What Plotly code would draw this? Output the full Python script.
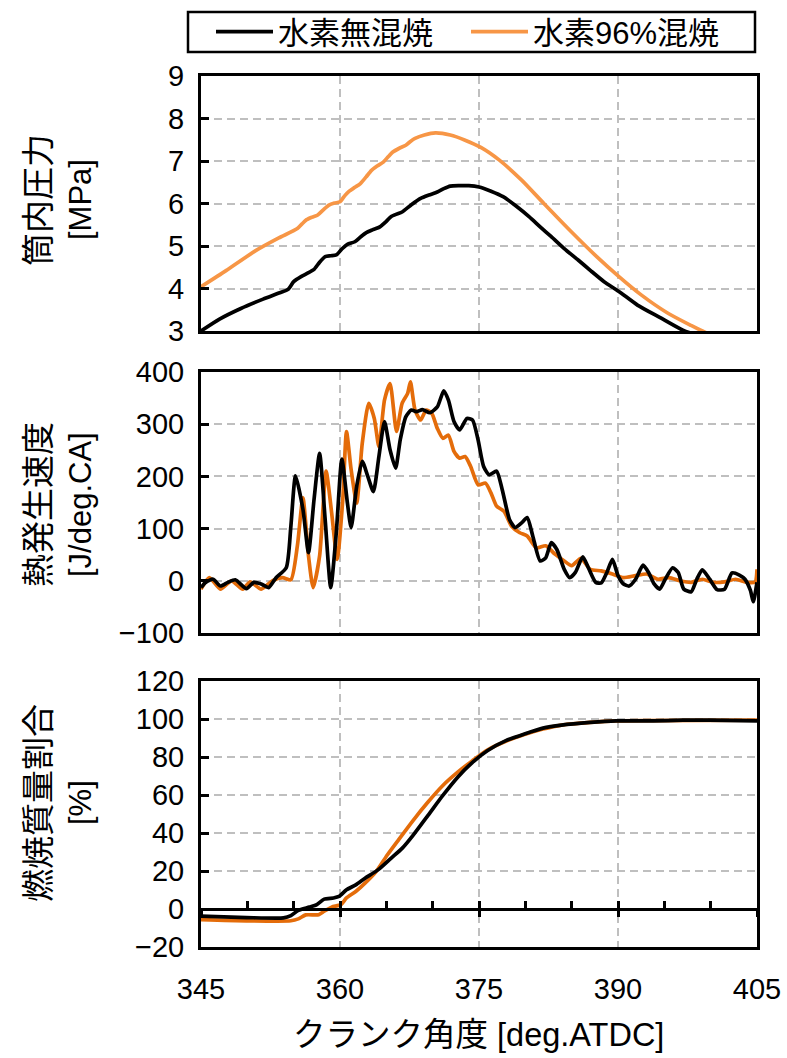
import plotly.graph_objects as go

# ---------------- data ----------------
# Panel 1: cylinder pressure [MPa]
p_ang_base = [345.0, 347.0, 349.3, 351.7, 353.5, 354.4, 355.0, 355.8, 356.5, 357.2, 357.8, 358.4, 359.0, 359.6,
              360.2, 360.8, 361.6, 362.2, 362.8, 363.5, 364.3, 365.0, 365.5, 366.1, 366.7, 367.7, 368.7, 369.6,
              370.5, 371.2, 371.9, 372.9, 373.9, 375.0, 376.3, 377.6, 379.0, 380.4, 381.6, 382.8, 384.2, 385.7,
              387.1, 388.5, 390.1, 392.1, 394.5, 397.0, 400.0, 405.0]
p_base = [3.00, 3.28, 3.53, 3.75, 3.90, 3.98, 4.16, 4.28, 4.36, 4.45, 4.62, 4.75, 4.77, 4.79,
          4.93, 5.04, 5.10, 5.21, 5.31, 5.38, 5.45, 5.58, 5.69, 5.75, 5.80, 5.97, 6.12, 6.20,
          6.27, 6.35, 6.41, 6.42, 6.42, 6.39, 6.29, 6.16, 5.94, 5.69, 5.45, 5.22, 4.94, 4.67,
          4.41, 4.16, 3.93, 3.61, 3.32, 3.02, 2.80, 2.50]
p_ang_h2 = [345.0, 347.7, 350.9, 353.4, 355.4, 355.9, 356.4, 357.0, 357.6, 358.2, 358.8, 359.4, 360.0, 360.5,
            361.0, 361.6, 362.2, 362.8, 363.4, 364.0, 364.7, 365.2, 365.7, 366.4, 367.1, 367.6, 368.1, 369.1,
            370.3, 371.9, 373.5, 375.2, 377.2, 379.6, 382.0, 384.8, 387.7, 390.1, 392.5, 395.3, 397.8, 399.6, 405.0]
p_h2 = [4.04, 4.42, 4.89, 5.19, 5.41, 5.52, 5.62, 5.68, 5.73, 5.85, 5.96, 6.01, 6.04, 6.18,
        6.29, 6.38, 6.47, 6.62, 6.78, 6.88, 6.98, 7.10, 7.21, 7.30, 7.37, 7.46, 7.53, 7.61,
        7.66, 7.61, 7.49, 7.32, 7.02, 6.55, 6.00, 5.37, 4.75, 4.28, 3.85, 3.43, 3.14, 2.95, 2.55]

# Panel 2: heat release rate [J/deg.CA]
q_ang_base = [345.0, 345.5, 346.3, 347.1, 347.9, 348.7, 349.9, 350.7, 351.5, 352.3, 353.1, 354.2, 354.7, 355.2,
              356.0, 356.6, 357.2, 357.8, 358.4, 359.0, 359.6, 360.2, 360.8, 361.2, 361.8, 362.4, 363.0, 363.6,
              364.2, 364.8, 365.4, 366.0, 366.5, 367.1, 367.7, 368.3, 368.9, 369.7, 370.5, 371.2, 371.7, 372.3,
              372.9, 373.7, 374.3, 374.9, 375.5, 376.1, 376.9, 377.5, 378.3, 378.9, 379.6, 380.2, 380.8, 381.6,
              382.2, 382.8, 383.4, 384.2, 384.8, 385.4, 386.2, 386.8, 387.6, 388.2, 388.8, 389.4, 390.0, 390.6,
              391.2, 391.9, 392.7, 393.3, 393.9, 394.5, 395.1, 395.9, 396.5, 397.1, 397.9, 398.5, 399.1, 399.9,
              400.7, 401.5, 402.3, 403.1, 403.7, 404.3, 404.6, 405.0]
q_base = [-13, -3, 3, -10, -3, 2, -15, -3, -6, -13, 6, 25, 105, 201,
          137, 54, 156, 244, 117, -13, 92, 233, 149, 102, 181, 229, 200, 171,
          238, 305, 251, 216, 270, 314, 327, 324, 328, 322, 333, 364, 346, 305,
          289, 311, 308, 270, 219, 203, 210, 175, 117, 102, 111, 121, 86, 38,
          44, 73, 60, 22, 6, 16, 46, 25, -3, -4, 16, 41, 10, -6,
          -10, 3, 30, 16, -6, -16, 3, 25, 16, -16, -21, 3, 21, 3,
          -17, -16, 15, 11, 3, -19, -40, -3]
q_ang_h2 = [345.0, 345.9, 347.1, 348.3, 349.5, 350.3, 351.5, 352.7, 353.8, 354.7, 355.4, 356.0, 356.6, 357.1,
            357.8, 358.5, 359.1, 359.7, 360.3, 360.7, 361.2, 361.8, 362.4, 363.1, 363.7, 364.2, 364.8, 365.4,
            366.1, 366.7, 367.3, 367.6, 368.1, 368.7, 369.3, 369.9, 370.5, 371.1, 371.7, 372.3, 372.9, 373.5,
            374.1, 374.9, 375.7, 376.3, 376.9, 377.7, 378.5, 379.4, 380.2, 381.2, 382.2, 383.2, 384.2, 385.0,
            386.0, 387.0, 388.2, 389.4, 390.6, 391.9, 393.1, 394.3, 395.5, 396.7, 397.9, 399.1, 400.3, 401.5,
            402.7, 403.9, 404.8, 405.0]
q_h2 = [-16, 6, -16, 0, -16, -2, -16, 0, 6, 2, 67, 159, 48, -13,
        48, 210, 130, 41, 156, 286, 213, 149, 263, 340, 311, 257, 346, 378,
        286, 340, 359, 381, 327, 308, 327, 321, 292, 273, 279, 248, 235, 238,
        219, 184, 187, 168, 143, 133, 105, 92, 86, 63, 67, 51, 38, 29,
        43, 22, 19, 13, 6, 10, 13, 3, 6, 0, -3, 3, -3, -2,
        3, -3, -2, 22]

# Panel 3: mass fraction burned [%]
m_ang_base = [345.0, 349.9, 353.9, 354.7, 355.5, 356.7, 357.5, 358.3, 359.3, 359.9, 360.7, 361.7, 362.7, 364.1,
              365.5, 366.7, 367.9, 369.5, 371.1, 372.7, 374.3, 375.9, 377.9, 379.9, 381.9, 383.9, 387.0, 389.8,
              393.8, 397.0, 399.8, 405.0]
m_base = [-3.8, -4.5, -4.7, -3.5, -0.7, 1.0, 2.3, 5.2, 5.8, 6.6, 10.1, 12.7, 16.2, 20.6,
          26.7, 31.9, 38.9, 49.3, 59.8, 69.4, 77.2, 83.3, 88.6, 92.1, 95.2, 96.8, 98.2, 99.0,
          99.0, 99.4, 99.4, 99.0]
m_ang_h2 = [345.0, 349.9, 354.7, 355.5, 356.3, 357.7, 358.3, 359.1, 360.1, 360.7, 361.7, 362.7, 363.9, 365.1,
            366.3, 367.9, 369.5, 371.1, 372.7, 374.3, 375.9, 377.9, 379.9, 381.9, 383.9, 387.0, 389.8, 405.0]
m_h2 = [-5.6, -6.2, -6.2, -5.2, -3.1, -3.0, -1.2, 1.0, 2.3, 5.8, 9.2, 13.6, 19.7, 28.4,
        36.3, 46.7, 56.3, 65.0, 72.0, 78.1, 83.7, 88.3, 91.8, 94.7, 96.8, 98.2, 99.0, 99.4]

series_names = ["水素無混焼", "水素96%混焼"]
x_ticks = [345, 360, 375, 390, 405]
p_range, q_range, m_range = [3, 9], [-100, 400], [-20, 120]
y_titles = [("筒内圧力", "[MPa]"), ("熱発生速度", "[J/deg.CA]"), ("燃焼質量割合", "[%]")]
x_title = "クランク角度 [deg.ATDC]"

# ---------------- styling ----------------
W, H = 787, 1058
FONT = "Liberation Sans, Arial, Noto Sans CJK JP, sans-serif"
BLACK = "#000000"
ORANGE_LIGHT = "#F79646"
ORANGE_DARK = "#E46C0A"
GRID = "#BFBFBF"

def px_x(p):
    return p / W

def px_y(p):
    return 1 - p / H

xdom = [px_x(201), px_x(757)]
d1 = [px_y(331), px_y(76)]
d2 = [px_y(633), px_y(372)]
d3 = [px_y(947), px_y(681)]

fig = go.Figure()
LW = 3.7
def spl(color):
    return dict(color=color, width=LW, shape="spline", smoothing=0.6)

fig.add_trace(go.Scatter(x=p_ang_base, y=p_base, mode="lines", name=series_names[0],
                         line=spl(BLACK), xaxis="x", yaxis="y"))
fig.add_trace(go.Scatter(x=p_ang_h2, y=p_h2, mode="lines", name=series_names[1],
                         line=spl(ORANGE_LIGHT), xaxis="x", yaxis="y"))
fig.add_trace(go.Scatter(x=q_ang_h2, y=q_h2, mode="lines", name=series_names[1], showlegend=False,
                         line=spl(ORANGE_DARK), xaxis="x2", yaxis="y2"))
fig.add_trace(go.Scatter(x=q_ang_base, y=q_base, mode="lines", name=series_names[0], showlegend=False,
                         line=spl(BLACK), xaxis="x2", yaxis="y2"))
fig.add_trace(go.Scatter(x=m_ang_h2, y=m_h2, mode="lines", name=series_names[1], showlegend=False,
                         line=spl(ORANGE_DARK), xaxis="x3", yaxis="y3"))
fig.add_trace(go.Scatter(x=m_ang_base, y=m_base, mode="lines", name=series_names[0], showlegend=False,
                         line=spl(BLACK), xaxis="x3", yaxis="y3"))
# empty traces so that the y=0 crossing axes of panel 3 are drawn
for ax in ["x4", "x5"]:
    fig.add_trace(go.Scatter(x=[], y=[], mode="lines", showlegend=False, hoverinfo="skip",
                             xaxis=ax, yaxis="y3"))

TICKFONT = dict(family=FONT, size=29, color=BLACK)
FRAME = 3

def xax(anchor, labels):
    d = dict(domain=xdom, anchor=anchor, range=[x_ticks[0], x_ticks[-1]], tickvals=x_ticks,
             showgrid=True, gridcolor=GRID, gridwidth=1.5, griddash="8px,5px",
             showline=True, linecolor=BLACK, linewidth=FRAME, mirror=True,
             zeroline=False, ticks="", showticklabels=labels, tickfont=TICKFONT,
             fixedrange=True, automargin=False)
    if labels:
        d["ticklabelstandoff"] = 14
    return d

def yax(anchor, dom, rng, dt):
    return dict(domain=dom, anchor=anchor, range=rng, dtick=dt, tick0=rng[0],
                showgrid=True, gridcolor=GRID, gridwidth=1.5, griddash="8px,5px",
                showline=True, linecolor=BLACK, linewidth=FRAME, mirror=True,
                zeroline=False, ticks="inside", ticklen=8, tickwidth=2.5, tickcolor=BLACK,
                tickfont=TICKFONT, ticklabelstandoff=8, fixedrange=True, automargin=False)

# position of the y=0 crossing line in panel 3 (paper coords), derived from the axis range
zero_pos = d3[0] + (0 - m_range[0]) / (m_range[1] - m_range[0]) * (d3[1] - d3[0])

fig.update_layout(
    width=W, height=H, margin=dict(l=0, r=0, t=0, b=0, autoexpand=False),
    paper_bgcolor="white", plot_bgcolor="white",
    font=dict(family=FONT, color=BLACK),
    xaxis=xax("y", False), xaxis2=xax("y2", False), xaxis3=xax("y3", True),
    yaxis=yax("x", d1, p_range, 1), yaxis2=yax("x2", d2, q_range, 100), yaxis3=yax("x3", d3, m_range, 20),
    xaxis4=dict(overlaying="x3", anchor="free", position=zero_pos, domain=xdom,
                range=[x_ticks[0], x_ticks[-1]], dtick=5, tick0=345, ticks="inside", ticklen=7,
                tickwidth=2.5, tickcolor=BLACK, showline=True, linecolor=BLACK, linewidth=FRAME,
                showgrid=False, zeroline=False, showticklabels=False, fixedrange=True,
                automargin=False),
    xaxis5=dict(overlaying="x3", anchor="free", position=zero_pos, domain=xdom,
                range=[x_ticks[0], x_ticks[-1]], dtick=15, tick0=345, ticks="outside", ticklen=7,
                tickwidth=2.5, tickcolor=BLACK, showline=False,
                showgrid=False, zeroline=False, showticklabels=False, fixedrange=True,
                automargin=False),
    legend=dict(orientation="h", x=px_x(211), xanchor="left", y=px_y(32), yanchor="middle",
                font=dict(family=FONT, size=31, color=BLACK), bgcolor="rgba(0,0,0,0)",
                borderwidth=0, entrywidth=183, entrywidthmode="pixels", itemwidth=57,
                tracegroupgap=0),
    showlegend=True,
)

# legend frame
fig.add_shape(type="rect", xref="paper", yref="paper",
              x0=px_x(188), x1=px_x(755), y0=px_y(52), y1=px_y(12),
              line=dict(color=BLACK, width=2.5), fillcolor="rgba(0,0,0,0)")

# y-axis titles (two rotated lines each)
centers = [200, 505, 803]
for (l1, l2), cy in zip(y_titles, centers):
    fig.add_annotation(text=l1, xref="paper", yref="paper", x=px_x(38), y=px_y(cy),
                       textangle=-90, showarrow=False, xanchor="center", yanchor="middle",
                       font=dict(family=FONT, size=33, color=BLACK))
    fig.add_annotation(text=l2, xref="paper", yref="paper", x=px_x(80), y=px_y(cy),
                       textangle=-90, showarrow=False, xanchor="center", yanchor="middle",
                       font=dict(family=FONT, size=31, color=BLACK))

# x-axis title
fig.add_annotation(text=x_title, xref="paper", yref="paper", x=px_x(478), y=px_y(1035),
                   showarrow=False, xanchor="center", yanchor="middle",
                   font=dict(family=FONT, size=32.5, color=BLACK))

fig.write_html("out.html")
